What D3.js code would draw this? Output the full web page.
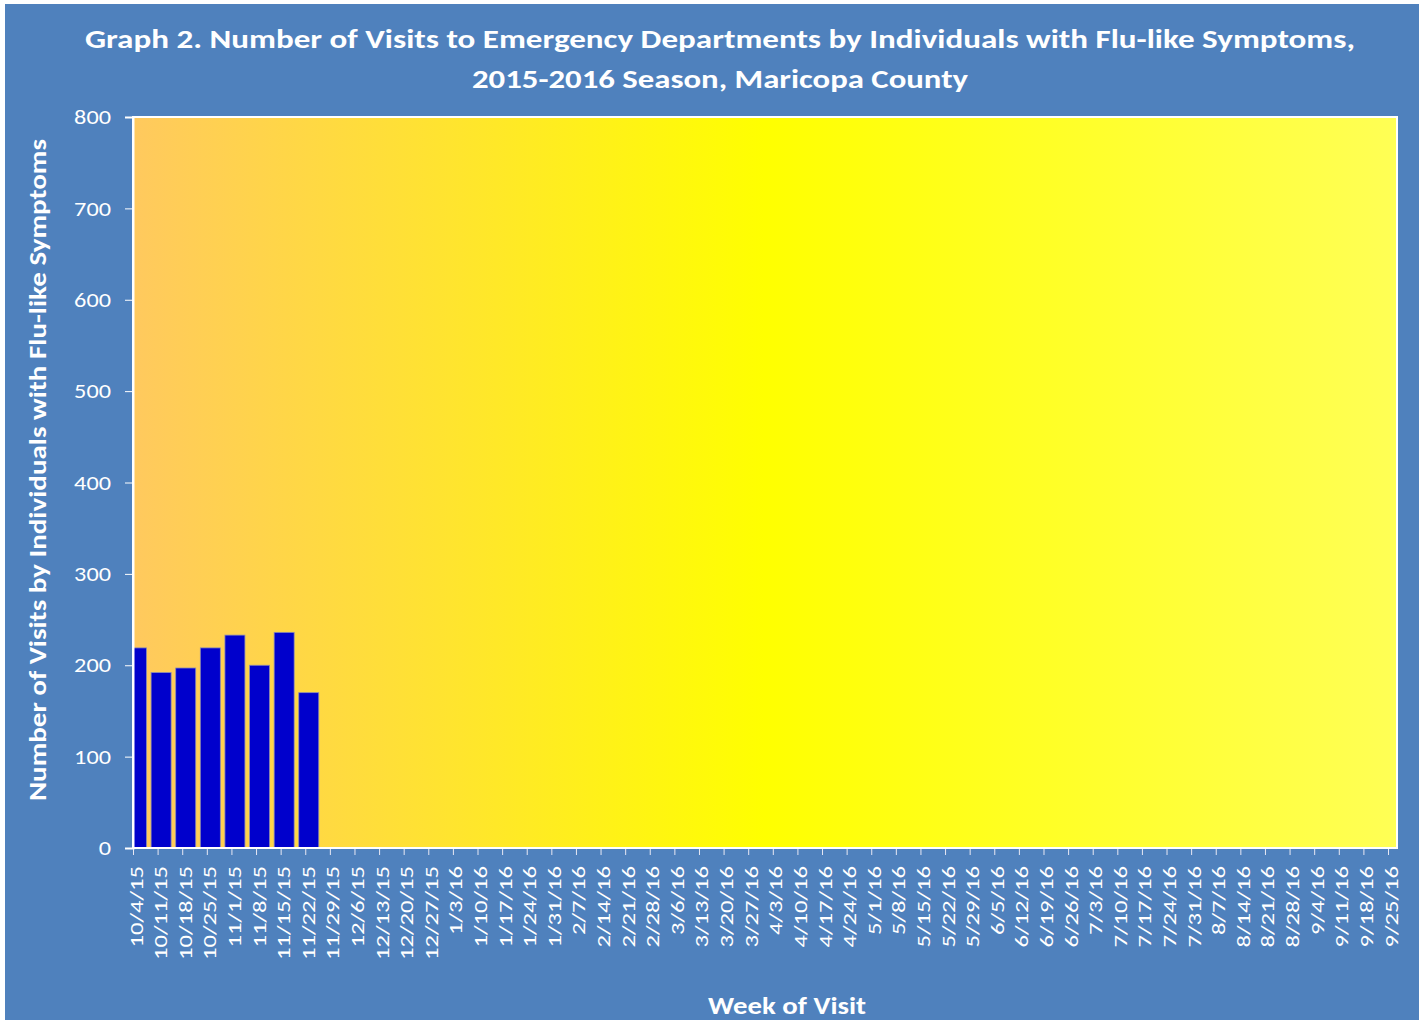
<!DOCTYPE html>
<html>
<head>
<meta charset="utf-8">
<script src="https://cdn.jsdelivr.net/npm/d3@7"></script>
<style>
  body { margin: 0; background: #fff; }
  text { font-family: Carlito, "Open Sans", "Liberation Sans", sans-serif; fill: #fff; }
</style>
</head>
<body>
<div class="viz"></div>
<script>
// weekly data, 2015-2016 season
var weeks = ["10/4/15","10/11/15","10/18/15","10/25/15","11/1/15","11/8/15","11/15/15","11/22/15",
  "11/29/15","12/6/15","12/13/15","12/20/15","12/27/15","1/3/16","1/10/16","1/17/16","1/24/16",
  "1/31/16","2/7/16","2/14/16","2/21/16","2/28/16","3/6/16","3/13/16","3/20/16","3/27/16","4/3/16",
  "4/10/16","4/17/16","4/24/16","5/1/16","5/8/16","5/15/16","5/22/16","5/29/16","6/5/16","6/12/16",
  "6/19/16","6/26/16","7/3/16","7/10/16","7/17/16","7/24/16","7/31/16","8/7/16","8/14/16","8/21/16",
  "8/28/16","9/4/16","9/11/16","9/18/16","9/25/16"];
var visits = [219, 192, 197, 219, 233, 200, 236, 170];
var yTicks = [0, 100, 200, 300, 400, 500, 600, 700, 800];
var titleLines = ["Graph 2. Number of Visits to Emergency Departments by Individuals with Flu-like Symptoms,",
  "2015-2016 Season, Maricopa County"];

var width = 1424, height = 1023;
var plot = { left: 133, top: 117, right: 1397, bottom: 848 };

var svg = d3.select('.viz').append('svg')
  .attr('width', width)
  .attr('height', height);

// outer panel
svg.append('rect')
  .attr('x', 5).attr('y', 4)
  .attr('width', 1414).attr('height', 1016)
  .attr('fill', '#4F81BD');

var defs = svg.append('defs');
var grad = defs.append('linearGradient').attr('id', 'bg').attr('x1', 0).attr('x2', 1).attr('y1', 0).attr('y2', 0);
grad.append('stop').attr('offset', 0).attr('stop-color', '#FFC95E');
grad.append('stop').attr('offset', 0.5).attr('stop-color', '#FFFF00');
grad.append('stop').attr('offset', 1).attr('stop-color', '#FFFF55');

defs.append('clipPath').attr('id', 'clip').append('rect')
  .attr('x', plot.left).attr('y', plot.top)
  .attr('width', plot.right - plot.left).attr('height', plot.bottom - plot.top);

svg.append('rect')
  .attr('x', plot.left).attr('y', plot.top)
  .attr('width', plot.right - plot.left).attr('height', plot.bottom - plot.top)
  .attr('fill', 'url(#bg)')
  .attr('stroke', '#fff').attr('stroke-width', 2);

var x = d3.scalePoint()
  .domain(weeks)
  .range([plot.left, 1388]);

var y = d3.scaleLinear()
  .domain([0, 800])
  .range([plot.bottom, plot.top]);

var barW = 20, barShift = 3.5;

svg.append('g').attr('clip-path', 'url(#clip)')
  .selectAll('rect')
  .data(visits)
  .enter().append('rect')
  .attr('x', (d, i) => x(weeks[i]) + barShift - barW / 2)
  .attr('y', d => y(d))
  .attr('width', barW)
  .attr('height', d => y(0) - y(d))
  .attr('fill', '#0000CC')
  .attr('stroke', '#8C8CB4')
  .attr('stroke-width', 0.8);

// y axis
var yAxis = d3.axisLeft(y).tickValues(yTicks).tickSize(8).tickPadding(14);
var yg = svg.append('g')
  .attr('transform', 'translate(' + plot.left + ',0)')
  .call(yAxis);
yg.select('.domain').attr('stroke', '#fff').attr('stroke-width', 2);
yg.selectAll('.tick line').attr('stroke', '#fff');
yg.selectAll('.tick text').attr('fill', '#fff').style('font-size', '21px')
  .attr('textLength', d => String(d).length * 12.3)
  .attr('lengthAdjust', 'spacingAndGlyphs');

// x axis
var xAxis = d3.axisBottom(x).tickSize(7).tickPadding(0);
var xg = svg.append('g')
  .attr('transform', 'translate(0,' + plot.bottom + ')')
  .call(xAxis);
xg.select('.domain').remove();
xg.append('line').attr('x1', plot.left).attr('x2', plot.right)
  .attr('stroke', '#fff').attr('stroke-width', 2);
xg.selectAll('.tick line').attr('stroke', '#E8E8F4');
xg.selectAll('.tick text')
  .attr('fill', '#fff')
  .style('font-size', '19px')
  .attr('text-anchor', 'end')
  .attr('transform', 'translate(9,18) rotate(-90) scale(1.3,1)')
  .attr('x', 0).attr('y', 0).attr('dy', 0);

// titles
svg.selectAll('.title')
  .data(titleLines)
  .enter().append('text')
  .attr('class', 'title')
  .attr('x', 720)
  .attr('y', (d, i) => 48 + i * 40)
  .attr('text-anchor', 'middle')
  .style('font-size', '27px')
  .style('font-weight', 'bold')
  .attr('textLength', (d, i) => i === 0 ? 1270 : 496)
  .attr('lengthAdjust', 'spacingAndGlyphs')
  .text(d => d);

svg.append('text')
  .attr('transform', 'translate(46,470) rotate(-90)')
  .attr('text-anchor', 'middle')
  .style('font-size', '24px')
  .style('font-weight', 'bold')
  .attr('textLength', 662)
  .attr('lengthAdjust', 'spacingAndGlyphs')
  .text('Number of Visits by Individuals with Flu-like Symptoms');

svg.append('text')
  .attr('x', 787)
  .attr('y', 1014)
  .attr('text-anchor', 'middle')
  .style('font-size', '25px')
  .style('font-weight', 'bold')
  .attr('textLength', 158)
  .attr('lengthAdjust', 'spacingAndGlyphs')
  .text('Week of Visit');
</script>
</body>
</html>
